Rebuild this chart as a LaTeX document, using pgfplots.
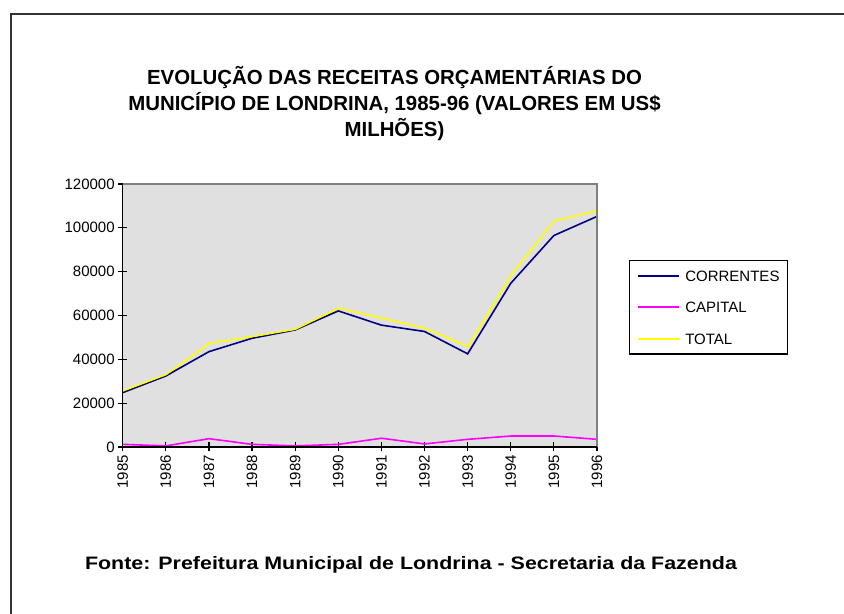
\documentclass[border=0pt]{standalone}
\usepackage{pgfplots}
\pgfplotsset{compat=1.18}
\usepackage{fontspec}
\setmainfont{Liberation Sans}
\definecolor{plotbg}{RGB}{224,224,224}
\definecolor{seriesnavy}{RGB}{0,0,128}
\definecolor{seriespink}{RGB}{255,0,255}
\definecolor{seriesyellow}{RGB}{255,255,0}
\begin{document}
\begin{tikzpicture}[x=1bp,y=1bp]
\useasboundingbox (0,0) rectangle (844,614);
\draw[line width=2bp, black!80] (10.5,-5) -- (10.5,600) -- (850,600);
\node[align=center, font=\fontsize{20.4bp}{26bp}\selectfont\bfseries] at (394.5,510)
  {EVOLUÇÃO DAS RECEITAS ORÇAMENTÁRIAS DO\\MUNICÍPIO DE LONDRINA, 1985-96 (VALORES EM US\$\\MILHÕES)};
\node[anchor=base, font=\fontsize{18bp}{22bp}\selectfont\bfseries] at (411,44)
  {\scalebox{1.19}[1]{Fonte: Prefeitura Municipal de Londrina - Secretaria da Fazenda}};
\begin{axis}[
  at={(122.7bp,167bp)}, anchor=south west,
  scale only axis, width=474.3bp, height=263bp,
  xmin=1985, xmax=1996, ymin=0, ymax=120000,
  axis background/.style={fill=plotbg},
  axis line style={draw=none},
  xtick={1985,...,1996},
  ytick={0,20000,...,120000},
  xticklabel style={rotate=90, anchor=east, font=\fontsize{15bp}{18bp}\selectfont},
  yticklabel style={font=\fontsize{15bp}{18bp}\selectfont},
  xticklabel={\pgfmathprintnumber[1000 sep={},fixed]{\tick}},
  yticklabel={\pgfmathprintnumber[1000 sep={},fixed]{\tick}},
  scaled y ticks=false,
  /pgf/number format/assume math mode=true,
  tick align=center, major tick length=9bp,
  tick style={black, line width=1.2bp},
  xtick pos=bottom, ytick pos=left,
  legend style={at={(1.0675,0.711)}, anchor=north west, draw=black, line width=1.2bp,
    fill=white, font=\fontsize{15bp}{18bp}\selectfont, inner xsep=7bp, inner ysep=9bp,
    row sep=19bp, nodes={inner sep=1bp, text depth=0pt}},
  legend cell align=left,
  legend image code/.code={\draw[#1, line width=1.8bp] (0bp,0bp) -- (41bp,0bp); \path (46bp,0bp);},
  clip=false,
]
\addplot[color=seriesnavy, line width=1.6bp] coordinates {
(1985,24800) (1986,32400) (1987,43500) (1988,49600) (1989,53400) (1990,62100)
(1991,55600) (1992,52700) (1993,42500) (1994,74700) (1995,96500) (1996,105200)};
\addlegendentry{CORRENTES}
\addplot[color=seriespink, line width=1.6bp] coordinates {
(1985,1200) (1986,500) (1987,3800) (1988,1200) (1989,500) (1990,1200)
(1991,4000) (1992,1400) (1993,3500) (1994,5000) (1995,5000) (1996,3500)};
\addlegendentry{CAPITAL}
\addplot[color=seriesyellow, line width=1.6bp] coordinates {
(1985,25600) (1986,33000) (1987,47300) (1988,50400) (1989,53700) (1990,63300)
(1991,58800) (1992,54200) (1993,45800) (1994,78500) (1995,103200) (1996,107800)};
\addlegendentry{TOTAL}
\draw[black!50, line width=1.2bp] (rel axis cs:0,1) -- (rel axis cs:1,1) -- (rel axis cs:1,0);
\draw[black, line width=1.5bp] (rel axis cs:0,1) -- (rel axis cs:0,0) -- (rel axis cs:1,0);
\end{axis}
\end{tikzpicture}
\end{document}
